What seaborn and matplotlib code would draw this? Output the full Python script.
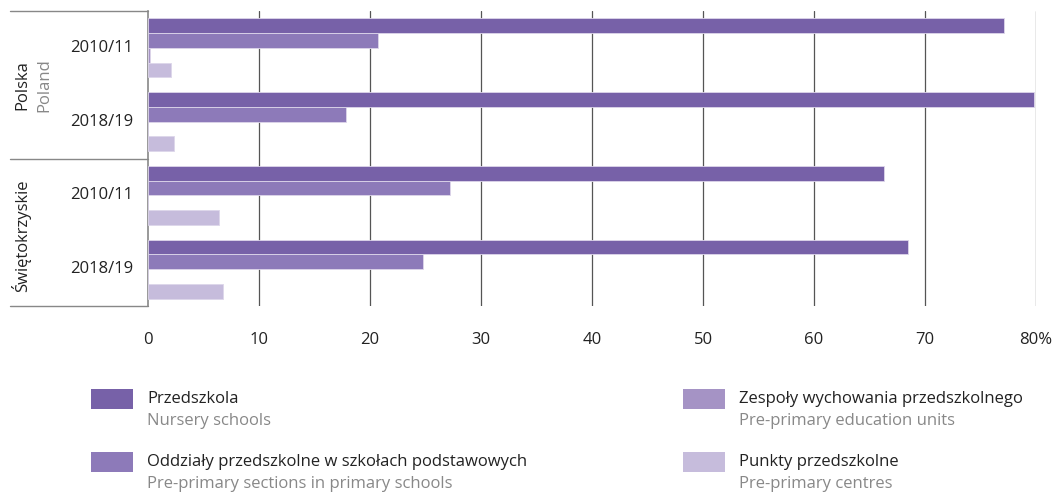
import matplotlib
matplotlib.use("Agg")
import matplotlib.pyplot as plt
import seaborn as sns
import pandas as pd
from matplotlib.patches import Rectangle
from matplotlib.lines import Line2D

# dane
groups = ["Polska 2010/11", "Polska 2018/19", "Świętokrzyskie 2010/11", "Świętokrzyskie 2018/19"]
years = ["2010/11", "2018/19", "2010/11", "2018/19"]
types_pl = ["Przedszkola", "Oddziały przedszkolne w szkołach podstawowych",
            "Zespoły wychowania przedszkolnego", "Punkty przedszkolne"]
types_en = ["Nursery schools", "Pre-primary sections in primary schools",
            "Pre-primary education units", "Pre-primary centres"]
przedszkola = [77.1, 79.8, 66.3, 68.5]
oddzialy = [20.7, 17.8, 27.2, 24.8]
zespoly = [0.2, 0.0, 0.0, 0.0]
punkty = [2.1, 2.3, 6.4, 6.8]
xticks = [0, 10, 20, 30, 40, 50, 60, 70, 80]
xlabels = ["0", "10", "20", "30", "40", "50", "60", "70", "80%"]

colors = ["#7761a8", "#8d7ab9", "#a593c5", "#c6bcdc"]

rows = []
for vals, t in zip([przedszkola, oddzialy, zespoly, punkty], types_pl):
    for g, v in zip(groups, vals):
        rows.append({"grupa": g, "rodzaj": t, "udzial": v})
df = pd.DataFrame(rows)

sns.set_style("white")
plt.rcParams["font.family"] = ["Open Sans", "DejaVu Sans"]
FS = 12

fig = plt.figure(figsize=(10.61, 4.92), dpi=100)
ax = fig.add_axes([148 / 1061, 1 - 306 / 492, (1036 - 148) / 1061, 295 / 492])

sns.barplot(data=df, y="grupa", x="udzial", hue="rodzaj", order=groups, hue_order=types_pl,
            palette=colors, saturation=1, width=0.8, orient="h", legend=False,
            edgecolor="#ddd6ea", linewidth=0.6, ax=ax, zorder=3)

ax.set_xlim(0, 80)
ax.set_ylim(3.5, -0.5)
ax.set_xticks(xticks)
ax.set_xticklabels(xlabels, fontsize=FS, color="#222222")
ax.tick_params(axis="x", length=0, pad=19)
ax.set_yticks([])
ax.set_xlabel("")
ax.set_ylabel("")
for x in xticks[1:]:
    ax.axvline(x, color="#555555", lw=0.9, zorder=1)
for s in ["top", "right", "bottom"]:
    ax.spines[s].set_visible(False)
ax.spines["left"].set_color("#888888")
ax.spines["left"].set_linewidth(1.2)

# ramka opisu po lewej
def fy(p):
    return 1 - p / 492

for yy in [11, 159, 306]:
    fig.add_artist(Line2D([10 / 1061, 148 / 1061], [fy(yy), fy(yy)], color="#888888", lw=1.0))

for i, yr in enumerate(years):
    yc = 11 + 295 / 4 * (i + 0.5)
    fig.text(133 / 1061, fy(yc), yr, ha="right", va="center", fontsize=FS, color="#222222")

fig.text(22 / 1061, fy(85), "Polska", rotation=90, ha="center", va="center", fontsize=FS, color="#222222")
fig.text(44 / 1061, fy(85), "Poland", rotation=90, ha="center", va="center", fontsize=FS, color="#888888")
fig.text(21 / 1061, fy(236), "Świętokrzyskie", rotation=90, ha="center", va="center", fontsize=FS, color="#222222")

# legenda
leg_pos = [(91, 389), (91, 452), (683, 389), (683, 452)]
for (px, py), c, tpl, ten in zip(leg_pos, colors, types_pl, types_en):
    fig.add_artist(Rectangle((px / 1061, fy(py + 20)), 42 / 1061, 20 / 492, facecolor=c, edgecolor="none"))
    fig.text((px + 56) / 1061, fy(py + 10), tpl, ha="left", va="center", fontsize=FS, color="#222222")
    fig.text((px + 56) / 1061, fy(py + 32), ten, ha="left", va="center", fontsize=FS, color="#888888")

fig.savefig("out.png", dpi=100)
